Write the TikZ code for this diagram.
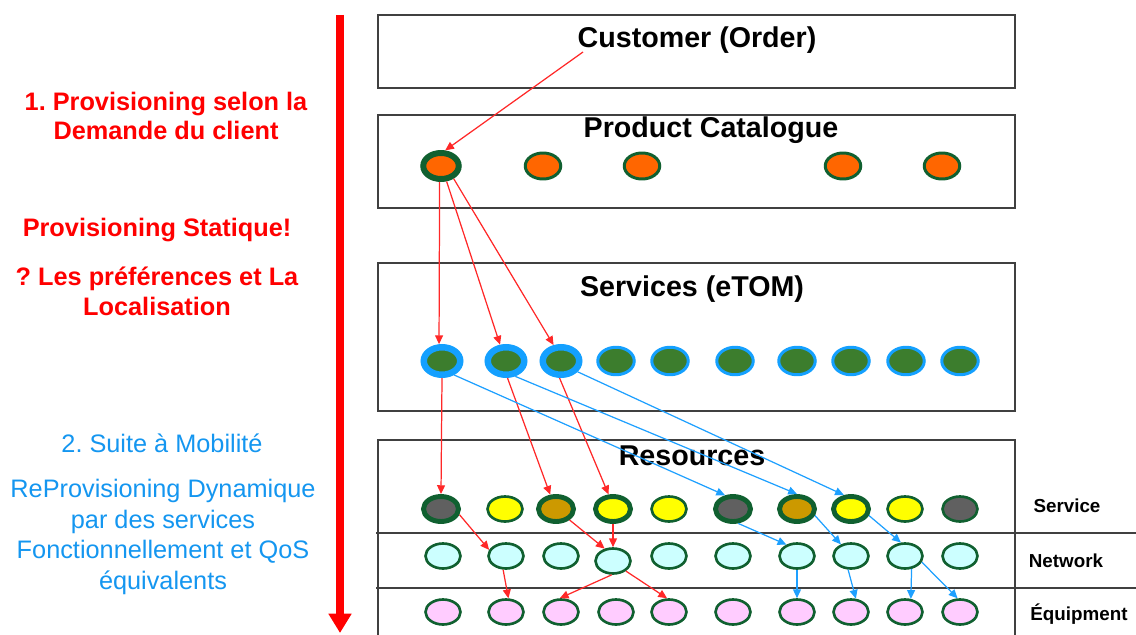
\documentclass[tikz,border=0pt]{standalone}
\usepackage{fontspec}
\setmainfont{Liberation Sans}
\usetikzlibrary{shapes.geometric,arrows.meta}
\definecolor{ringgreen}{RGB}{16,96,48}
\definecolor{orangefill}{RGB}{255,102,0}
\definecolor{svcgreen}{RGB}{60,125,45}
\definecolor{ringblue}{RGB}{20,160,255}
\definecolor{resgray}{RGB}{96,96,96}
\definecolor{resbrown}{RGB}{204,153,0}
\definecolor{resyellow}{RGB}{255,255,0}
\definecolor{netcyan}{RGB}{204,255,255}
\definecolor{eqpink}{RGB}{255,204,255}
\definecolor{linkred}{RGB}{255,40,40}
\definecolor{linkblue}{RGB}{30,160,255}
\definecolor{textblue}{RGB}{20,150,240}
\definecolor{boxgray}{RGB}{64,64,64}

\begin{document}
\begin{tikzpicture}[x=0.02cm,y=-0.02cm,
  box/.style={draw=boxgray,line width=0.8pt},
  boxtitle/.style={font=\fontsize{16.3}{19}\selectfont\bfseries},
  redtext/.style={text=red,align=center,font=\fontsize{14.4}{17}\selectfont\bfseries\frenchspacing},
  bluetext/.style={text=textblue,align=center,font=\fontsize{14.4}{17.4}\selectfont\frenchspacing},
  layer/.style={font=\fontsize{10.7}{13}\selectfont\bfseries},
  pnode/.style={ellipse,draw=ringgreen,fill=orangefill,inner sep=0pt,minimum width=0.71cm,minimum height=0.52cm},
  snode/.style={ellipse,draw=ringblue,fill=svcgreen,inner sep=0pt,minimum width=0.73cm,minimum height=0.55cm},
  rnode/.style={ellipse,draw=ringgreen,inner sep=0pt,minimum width=0.70cm,minimum height=0.50cm},
  redlink/.style={draw=linkred,line width=0.7pt,-{Triangle[length=5pt,width=4.5pt]}},
  bluelink/.style={draw=linkblue,line width=0.7pt,-{Triangle[length=5pt,width=4.5pt]}}]
  \useasboundingbox (0,0) rectangle (1136,635);

  % left side
  \draw[red,line width=4.5pt,-{Triangle[length=11pt,width=12.5pt]}] (340,15) -- (340,633);
  \node[redtext] (demande) at (166,116) {1. Provisioning selon la\\Demande du client};
  \node[redtext] (statique) at (157,230) {Provisioning Statique!};
  \node[redtext] (prefs) at (157,291) {? Les préférences et La\\Localisation};
  \node[bluetext] (mobilite) at (162,443) {2. Suite à Mobilité};
  \node[bluetext] (reprov) at (163,537) {ReProvisioning Dynamique\\par des services\\Fonctionnellement et QoS\\équivalents};

  % layers
  \draw[box] (378,15) rectangle (1015,88);
  \draw[box] (378,115) rectangle (1015,208);
  \draw[box] (378,263) rectangle (1015,411);
  \draw[box] (378,635) -- (378,440) -- (1015,440) -- (1015,635);
  \draw[box] (376,533) -- (1136,533);
  \draw[box] (376,588) -- (1136,588);
  \node[boxtitle] (customer) at (697,40) {Customer (Order)};
  \node[boxtitle] (catalogue) at (711,130) {Product Catalogue};
  \node[boxtitle] (services) at (692,289) {Services (eTOM)};
  \node[boxtitle] (resources) at (692,456) {Resources};
  \node[layer] (lservice) at (1067,506) {Service};
  \node[layer] (lnetwork) at (1066,561) {Network};
  \node[layer] (lequip) at (1079,614) {Équipment};

  \foreach \i/\x/\lw in {1/441/3.4,2/543/1.7,3/642/1.7,4/843/1.7,5/942/1.7}
    \node[pnode,line width=\lw pt] (p\i) at (\x,166) {};
  \foreach \i/\x/\lw in {1/442/3.7,2/506/3.7,3/561/3.7,4/616/1.7,5/670/1.7,6/735/1.7,7/797/1.7,8/851/1.7,9/906/1.7,10/960/1.7}
    \node[snode,line width=\lw pt] (s\i) at (\x,361) {};
  \foreach \i/\x/\c/\lw in {1/441/resgray/2.8,2/505/resyellow/1.5,3/556/resbrown/2.8,4/613/resyellow/2.8,5/669/resyellow/1.5,6/733/resgray/2.8,7/797/resbrown/2.8,8/851/resyellow/2.8,9/905/resyellow/1.5,10/960/resgray/1.5}
    \node[rnode,fill=\c,line width=\lw pt] (r\i) at (\x,509) {};
  \foreach \i/\x/\y in {1/443/556,2/506/556,3/561/556,4/613/561,5/669/556,6/733/556,7/797/556,8/851/556,9/905/556,10/960/556}
    \node[rnode,fill=netcyan,line width=1.5pt] (n\i) at (\x,\y) {};
  \foreach \i/\x in {1/443,2/506,3/561,4/616,5/669,6/733,7/797,8/851,9/905,10/960}
    \node[rnode,fill=eqpink,line width=1.5pt] (e\i) at (\x,612) {};

  % links
  \coordinate (order) at (583,52);
  \draw[redlink] (order) -- (p1.75);
  \foreach \a/\b in {p1.265/s1.100,p1.290/s2.110,p1.315/s3.115,s1.south/r1.north,s2.275/r3.112,s3.265/r4.107,
    r1.343/n2.160,r3.321/n4.124,r4.south/n4.north,n2.258/e2.80,n4.265/e3.95,n4.322/e5.98}
    \draw[redlink] (\a) -- (\b);
  \foreach \a/\b in {s1.311/r6.120,s2.301/r7.north,s3.327/r8.117,r6.290/n7.133,r7.340/n8.131,r8.340/n9.107,
    n7.south/e7.north,n8.258/e8.70,n9.297/e9.66,n9.340/e10.100}
    \draw[bluelink] (\a) -- (\b);
\end{tikzpicture}
\end{document}
